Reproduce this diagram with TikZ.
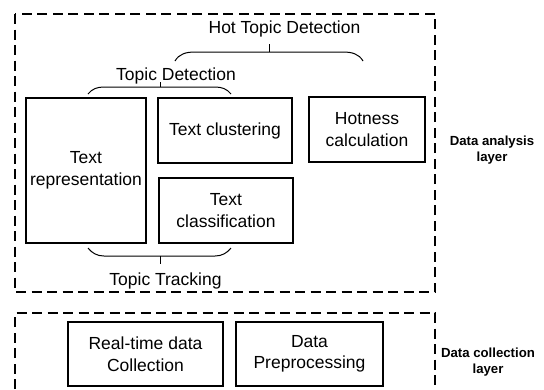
\documentclass[tikz,border=0pt]{standalone}
\usepackage{fontspec}
\setmainfont{Liberation Sans}
\begin{document}
\begin{tikzpicture}[x=1pt,y=-1pt,
  box/.style={draw, line width=1.4pt, inner sep=0pt, align=center,
    font=\fontsize{17.5}{21.5}\selectfont},
  lbl/.style={inner sep=0pt, font=\fontsize{17.5}{21.5}\selectfont},
  side/.style={inner sep=0pt, align=center, font=\bfseries\fontsize{13.2}{15.5}\selectfont},
  layerbox/.style={draw, line width=1.4pt, dash pattern=on 10pt off 5.5pt},
  brace/.style={draw, line width=1pt}]
\useasboundingbox (0,0) rectangle (544,389);

% layer frames
\draw[layerbox] (15,14) rectangle (435,292);
\draw[layerbox] (15,389) -- (15,313) -- (435,313) -- (435,389);

% boxes
\node[box, minimum width=120pt, minimum height=145pt] (rep) at (86,170.5) {Text\\representation};
\node[box, minimum width=134pt, minimum height=65pt] (clu) at (225,130.5) {Text clustering};
\node[box, minimum width=134pt, minimum height=65pt] (cls) at (226,210.5) {Text\\classification};
\node[box, minimum width=116pt, minimum height=65pt] (hotc) at (367,129.5) {Hotness\\calculation};
\node[box, minimum width=155pt, minimum height=64pt] (rt) at (145.5,354) {Real-time data\\Collection};
\node[box, minimum width=147pt, minimum height=64pt] (pre) at (309.5,354) {Data\\Preprocessing};

% group labels
\node[lbl, anchor=base] (htd) at (284.5,33.5) {Hot Topic Detection};
\node[lbl, anchor=base] (td) at (176,80) {Topic Detection};
\node[lbl, anchor=base] (tt) at (165.5,285.7) {Topic Tracking};

% braces
\coordinate (t1) at (269,44);
\coordinate (m1) at (269,52);
\draw[brace] (175,61) .. controls (179,54) and (186,52) .. (195,52) -- (343,52) .. controls (352,52) and (359,54) .. (363,61);
\draw[brace] (m1) -- (t1);

\coordinate (t2) at (160,82);
\coordinate (m2) at (160,87);
\draw[brace] (88,94) .. controls (92,89) and (97,87) .. (104,87) -- (215,87) .. controls (222,87) and (227,89) .. (231,94);
\draw[brace] (m2) -- (t2);

\coordinate (t3) at (160,264);
\coordinate (m3) at (160,256);
\draw[brace] (88,248) .. controls (92,253) and (97,256) .. (104,256) -- (215,256) .. controls (222,256) and (227,253) .. (231,248);
\draw[brace] (m3) -- (t3);

% side labels
\node[side] (dal) at (492,150.3) {Data analysis\\layer};
\node[side] (dcl) at (488,362) {Data collection\\layer};
\end{tikzpicture}
\end{document}
